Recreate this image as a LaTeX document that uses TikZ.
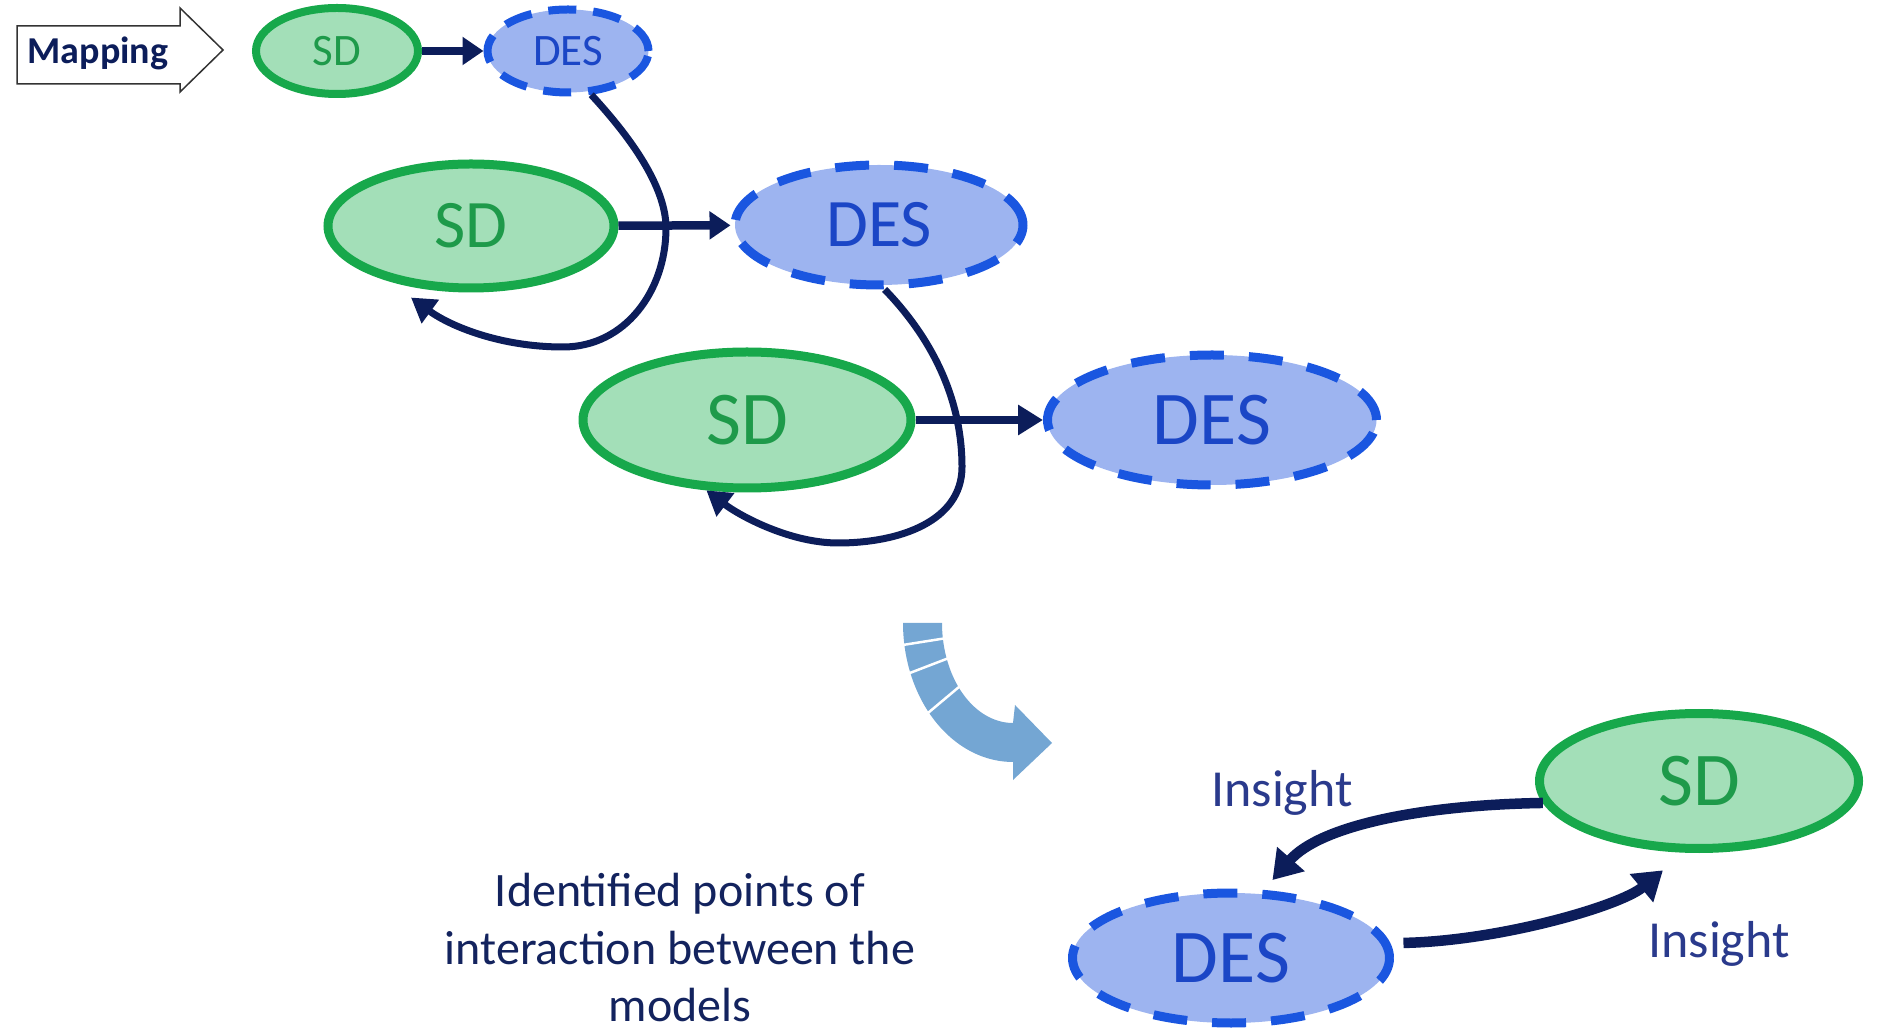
\documentclass[tikz,border=0pt]{standalone}
\usepackage{fontspec}
\setmainfont{Carlito}
\usetikzlibrary{arrows.meta,calc,shapes.geometric}

\definecolor{sdfill}{HTML}{A3DFB8}
\definecolor{sdline}{HTML}{17A84B}
\definecolor{sdtext}{HTML}{1E9A4A}
\definecolor{desfill}{HTML}{9DB4F0}
\definecolor{desline}{HTML}{1A56E0}
\definecolor{destext}{HTML}{1B46C6}
\definecolor{navy}{HTML}{0C1D5A}
\definecolor{labeltext}{HTML}{2A3A8C}
\definecolor{notetext}{HTML}{13235E}
\definecolor{flowarrow}{HTML}{74A6D3}

\tikzset{
  model/.style={ellipse, line width=9pt, inner sep=0pt},
  sdnode/.style={model, draw=sdline, fill=sdfill, text=sdtext},
  desnode/.style={model, draw=desline, fill=desfill, text=destext, dash pattern=on 34pt off 25pt},
  smallfont/.style={font=\fontsize{45pt}{54pt}\selectfont},
  midfont/.style={font=\fontsize{68pt}{80pt}\selectfont},
  bigfont/.style={font=\fontsize{76pt}{90pt}\selectfont},
  link/.style={draw=navy, line width=8.5pt, -{Triangle[length=21pt,width=27pt]}},
  feedback/.style={draw=navy, line width=7pt, -{Triangle[length=24pt,width=28pt]}},
  insight/.style={draw=navy, line width=10.5pt, -{Triangle[length=28pt,width=35pt]}},
  insightlabel/.style={text=labeltext, font=\fontsize{52pt}{62pt}\selectfont},
}

\begin{document}
\begin{tikzpicture}[x=1pt,y=1pt]
\useasboundingbox (0,0) rectangle (1878,1031);

% "Mapping" banner arrow
\draw[line width=1.5pt, draw=black!80, line join=miter]
  (17,1005) -- (180,1005) -- (180,1023) -- (223,981) -- (180,939) -- (180,947) -- (17,947) -- cycle;
\node[text=navy, font=\bfseries\fontsize{38pt}{44pt}\selectfont] (map) at (98,978) {Mapping};

% first pair
\node[sdnode, smallfont, line width=8pt, minimum width=162pt, minimum height=86pt] (sd1) at (337,980) {SD};
\node[desnode, smallfont, dash pattern=on 28pt off 17pt, line width=8pt, minimum width=161pt, minimum height=83pt] (des1) at (568,980) {DES};
\draw[link] (sd1) -- (des1);

% second pair
\node[sdnode, midfont, minimum width=286pt, minimum height=124pt] (sd2) at (471,805) {SD};
\node[desnode, midfont, minimum width=288pt, minimum height=120pt] (des2) at (879,806) {DES};
\draw[link] (sd2) -- (des2);

% third pair
\node[sdnode, bigfont, minimum width=328pt, minimum height=136pt] (sd3) at (747,611) {SD};
\node[desnode, bigfont, minimum width=329pt, minimum height=130pt] (des3) at (1212,611) {DES};
\draw[link, -{Triangle[length=25pt,width=29pt]}] (sd3) -- (des3);

% feedback loops from each DES back to the next SD
\draw[feedback] (des1.298) .. controls (620,905) and (666,850) .. (666,803)
  .. controls (666,740) and (625,684) .. (563,684)
  .. controls (500,684) and (450,705) .. ($(sd2.center)!1.15!(sd2.230)$);
\draw[feedback] (des2.275) .. controls (925,700) and (962,640) .. (962,564)
  .. controls (962,510) and (900,488) .. (838,488)
  .. controls (790,488) and (740,515) .. (sd3.240);

% segmented curved block arrow
\fill[flowarrow]
  plot[domain=0:90, samples=40, smooth] ({1013-110*cos(\x)}, {408-139*sin(\x)})
  -- (1013,251) -- (1052,288) -- (1015,326) -- (1013,308)
  -- plot[domain=90:0, samples=40, smooth] ({1013-71*cos(\x)}, {408-100*sin(\x)})
  -- cycle;
\foreach \t in {9,21,40}
  \draw[white, line width=2.5pt]
    ({1013-115*cos(\t)}, {408-144*sin(\t)}) -- ({1013-66*cos(\t)}, {408-95*sin(\t)});

% bottom pair exchanging insight
\node[sdnode, bigfont, minimum width=319pt, minimum height=135pt] (sd4) at (1699,250) {SD};
\node[desnode, bigfont, minimum width=317pt, minimum height=130pt] (des4) at (1231,73) {DES};

\draw[insight] (sd4.188) .. controls (1420,226) and (1320,205) .. ($(des4.center)!1.15!(des4.62)$);
\draw[insight] ($(des4.center)!1.08!(des4.5)$) .. controls (1500,90) and (1620,125) .. ($(sd4.center)!1.26!(sd4.248)$);

\node[insightlabel] (insightA) at (1282,238) {Insight};
\node[insightlabel] (insightB) at (1719,87) {Insight};

\node[text=notetext, align=center, font=\fontsize{48pt}{57.5pt}\selectfont] (note) at (680,83)
  {Identified points of\\interaction between the\\models};
\end{tikzpicture}
\end{document}
